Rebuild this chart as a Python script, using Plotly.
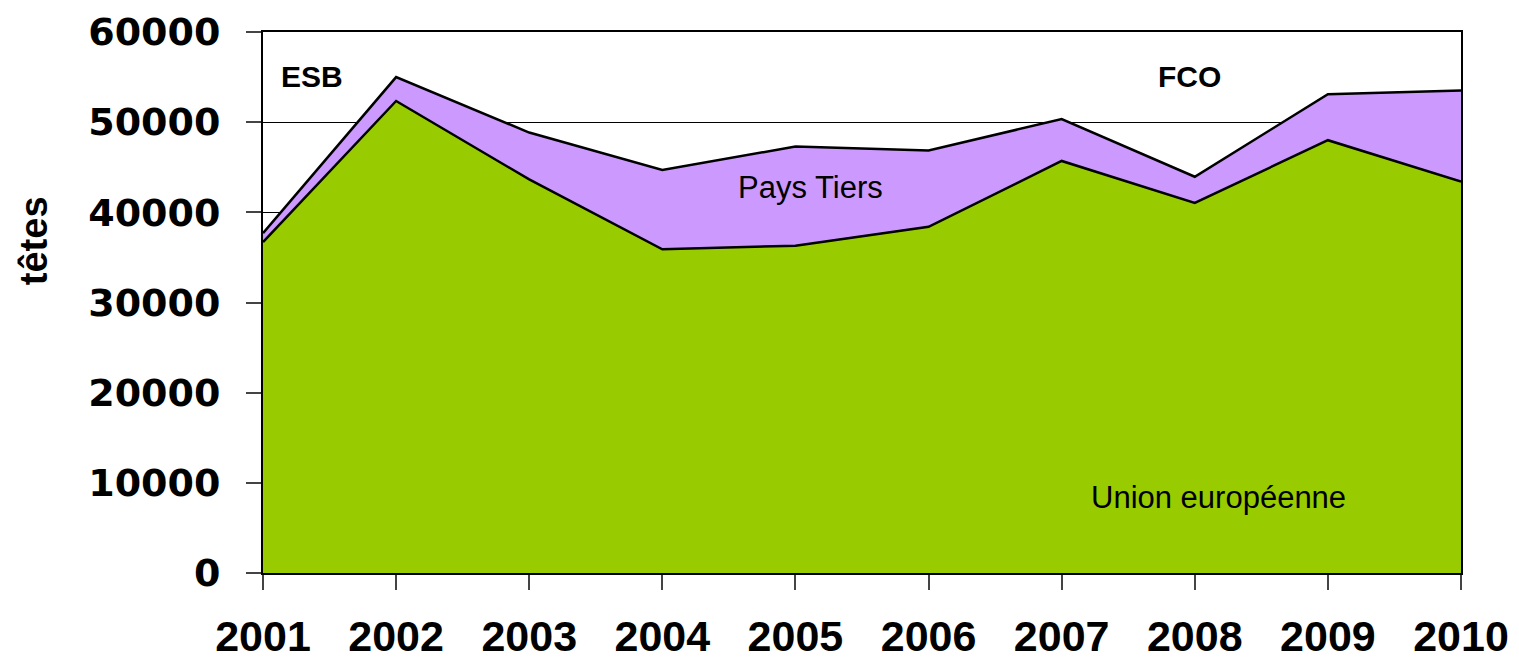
import plotly.graph_objects as go

years = [2001, 2002, 2003, 2004, 2005, 2006, 2007, 2008, 2009, 2010]
union_europeenne = [36700, 52350, 43650, 35900, 36300, 38400, 45700, 41050, 48000, 43400]
pays_tiers = [1000, 2650, 5200, 8800, 11000, 8450, 4650, 2900, 5100, 10100]
y_ticks = [0, 10000, 20000, 30000, 40000, 50000, 60000]

fig = go.Figure()
fig.add_trace(go.Scatter(
    x=years, y=union_europeenne, name="Union européenne",
    mode="lines", stackgroup="one",
    line=dict(color="black", width=2.5), fillcolor="#99CC00",
))
fig.add_trace(go.Scatter(
    x=years, y=pays_tiers, name="Pays Tiers",
    mode="lines", stackgroup="one",
    line=dict(color="black", width=2.5), fillcolor="#CC99FF",
))

fig.update_layout(
    width=1519, height=663,
    margin=dict(l=255, r=66, t=24, b=98),
    paper_bgcolor="white", plot_bgcolor="white",
    showlegend=False,
    xaxis=dict(
        range=[2001, 2010], tickmode="array", tickvals=years,
        ticktext=[str(y) for y in years],
        showgrid=False, zeroline=False, automargin=False,
        showline=True, linecolor="black", linewidth=2, mirror=True,
        ticks="outside", ticklen=15, tickcolor="#444", tickwidth=2,
        ticklabelstandoff=9,
        tickfont=dict(family="Liberation Sans Narrow, Liberation Sans, Arial", size=43, color="black", weight="bold"),
    ),
    yaxis=dict(
        range=[0, 60000], tickmode="array", tickvals=y_ticks,
        ticktext=[str(v) for v in y_ticks],
        showgrid=True, gridcolor="black", gridwidth=1, zeroline=False, automargin=False,
        showline=True, linecolor="black", linewidth=2, mirror=True,
        ticks="outside", ticklen=15, tickcolor="#444", tickwidth=2,
        ticklabelstandoff=18,
        tickfont=dict(family="DejaVu Sans, Arial", size=38, color="black", weight="bold"),
    ),
    annotations=[
        dict(text="têtes", xref="paper", yref="paper", x=-0.191, y=0.6137,
             xanchor="center", yanchor="middle", textangle=-90, showarrow=False,
             font=dict(family="Liberation Sans, Arial", size=38, color="black", weight="bold")),
        dict(text="ESB", x=2001.37, y=55120, xanchor="center", yanchor="middle", showarrow=False,
             font=dict(family="Liberation Sans, Arial", size=30, color="black", weight="bold")),
        dict(text="FCO", x=2007.96, y=55120, xanchor="center", yanchor="middle", showarrow=False,
             font=dict(family="Liberation Sans, Arial", size=30, color="black", weight="bold")),
        dict(text="Pays Tiers", x=2005.11, y=42700, xanchor="center", yanchor="middle", showarrow=False,
             font=dict(family="Liberation Sans, Arial", size=31, color="black")),
        dict(text="Union européenne", x=2008.18, y=8320, xanchor="center", yanchor="middle", showarrow=False,
             font=dict(family="Liberation Sans, Arial", size=31, color="black")),
    ],
)

fig.write_html("out.html")
